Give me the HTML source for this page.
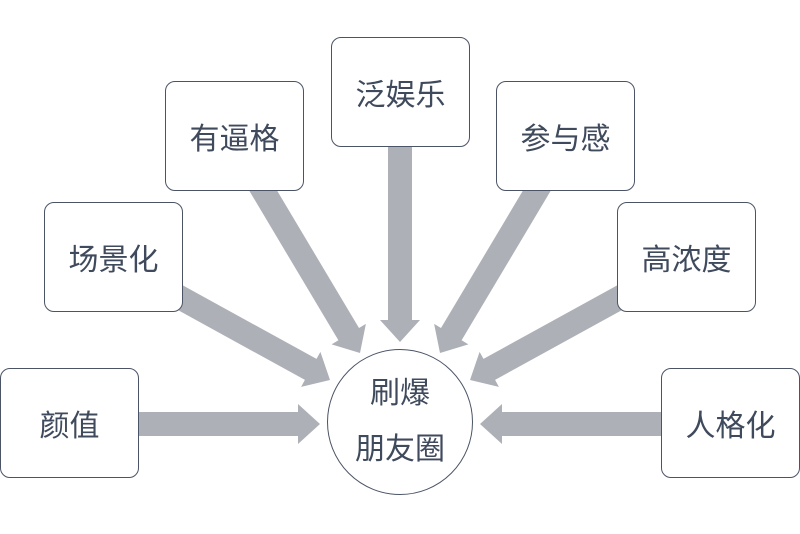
<!DOCTYPE html>
<html><head><meta charset="utf-8"><style>
body{margin:0;width:800px;height:534px;background:#fff;overflow:hidden;position:relative;font-family:"Liberation Sans","Noto Sans CJK SC",sans-serif;}
.b{position:absolute;width:137px;height:108px;border:1px solid #4b5466;border-radius:10px;background:#fff;display:flex;align-items:center;justify-content:center;font-size:30px;color:#3f4a5c;box-sizing:border-box;width:139px;height:110px}
.c{position:absolute;left:327px;top:349px;width:146px;height:146px;border:1px solid #4b5466;border-radius:50%;box-sizing:border-box;text-align:center;font-size:30px;color:#3f4a5c;line-height:56px;padding-top:16px}
svg{position:absolute;left:0;top:0}
</style></head><body>
<svg width="800" height="534" id="s"></svg>
<div class="b" style="left:0;top:368px">颜值</div>
<div class="b" style="left:44px;top:202px">场景化</div>
<div class="b" style="left:165px;top:81px">有逼格</div>
<div class="b" style="left:331px;top:37px">泛娱乐</div>
<div class="b" style="left:496px;top:81px">参与感</div>
<div class="b" style="left:617px;top:202px">高浓度</div>
<div class="b" style="left:661px;top:368px">人格化</div>
<div class="c">刷爆<br>朋友圈</div>
<script>
var A=[[130,424,320,424],[670,424,480,424],[400,140,400,342],[170,292,330,380],[258,182,360,353],[542,182,440,353],[630,292,470,380]];
var s=document.getElementById('s'),h='';
A.forEach(function(a){var dx=a[2]-a[0],dy=a[3]-a[1],L=Math.hypot(dx,dy),ux=dx/L,uy=dy/L,px=-uy,py=ux,w=12,H=20,hl=22;
var bx=a[2]-ux*hl,by=a[3]-uy*hl;
var p=[[a[0]+px*w,a[1]+py*w],[bx+px*w,by+py*w],[bx+px*H,by+py*H],[a[2],a[3]],[bx-px*H,by-py*H],[bx-px*w,by-py*w],[a[0]-px*w,a[1]-py*w]];
h+='<polygon fill="#adb0b7" points="'+p.map(function(q){return q[0].toFixed(1)+','+q[1].toFixed(1)}).join(' ')+'"/>';});
s.innerHTML=h;
</script>
</body></html>
